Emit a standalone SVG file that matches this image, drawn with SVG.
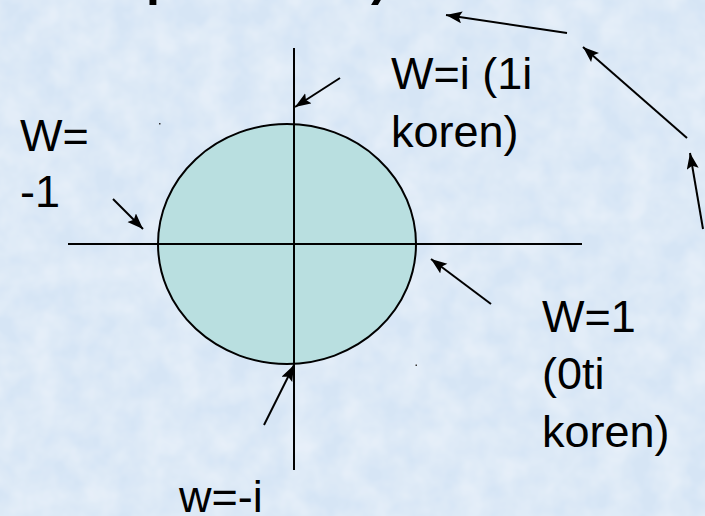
<svg xmlns="http://www.w3.org/2000/svg" width="705" height="516" viewBox="0 0 705 516">
  <style>
    .lbl { font-family: "Liberation Sans", Arial, sans-serif; font-size: 45px; fill: #000; }
    .ttl { font-family: "Liberation Sans", Arial, sans-serif; font-size: 50px; font-weight: bold; fill: #000; }
    .ax { stroke: #000; stroke-width: 2; fill: none; }
    .conn { stroke: #000; stroke-width: 2; fill: none; marker-end: url(#ah); }
  </style>
  <defs>
    <marker id="ah" markerUnits="userSpaceOnUse" markerWidth="18" markerHeight="14" refX="16" refY="6" orient="auto">
      <path d="M0,0 L16,6 L0,12 L3,6 Z" fill="#000"/>
    </marker>
    <filter id="tex" x="0" y="0" width="100%" height="100%">
      <feTurbulence type="fractalNoise" baseFrequency="0.035" numOctaves="3" seed="4" result="n"/>
      <feColorMatrix in="n" type="matrix" values="0 0 0 0 1  0 0 0 0 1  0 0 0 0 1  0 0 0 0.6 -0.15" result="w"/>
      <feComposite in="w" in2="SourceGraphic" operator="over"/>
    </filter>
  </defs>
  <rect id="background" x="0" y="0" width="705" height="516" fill="#d6e5f5" filter="url(#tex)"/>

  <g id="title">
    <text class="ttl" x="146" y="-5">p</text>
    <text class="ttl" x="371" y="-5">)</text>
  </g>

  <g id="plane">
    <ellipse cx="287" cy="244" rx="129" ry="120" fill="#b9dfe0" stroke="#000" stroke-width="2"/>
    <line class="ax" x1="68" y1="244" x2="582" y2="244"/>
    <line class="ax" x1="294" y1="48" x2="294" y2="470"/>
    <rect x="159" y="123" width="1.5" height="1.5" fill="#333"/>
    <rect x="415.5" y="364.5" width="1.5" height="1.5" fill="#333"/>
  </g>

  <g id="label-wi">
    <text class="lbl" x="391" y="89">W=i (1i</text>
    <text class="lbl" x="391" y="147">koren)</text>
  </g>
  <g id="label-wm1">
    <text class="lbl" x="20" y="151">W=</text>
    <text class="lbl" x="20" y="207">-1</text>
  </g>
  <g id="label-w1">
    <text class="lbl" x="542" y="332">W=1</text>
    <text class="lbl" x="542" y="389">(0ti</text>
    <text class="lbl" x="542" y="447">koren)</text>
  </g>
  <g id="label-wmi">
    <text class="lbl" x="179" y="512">w=-i</text>
  </g>

  <g id="connectors">
    <line class="conn" x1="340" y1="78" x2="295" y2="107"/>
    <line class="conn" x1="113" y1="199" x2="143" y2="229"/>
    <line class="conn" x1="491" y1="304" x2="431" y2="259"/>
    <line class="conn" x1="264" y1="425" x2="294" y2="365"/>
    <line class="conn" x1="567" y1="33" x2="446" y2="15"/>
    <line class="conn" x1="687" y1="138" x2="583" y2="47"/>
    <line class="conn" x1="703" y1="229" x2="690" y2="153"/>
  </g>
</svg>
